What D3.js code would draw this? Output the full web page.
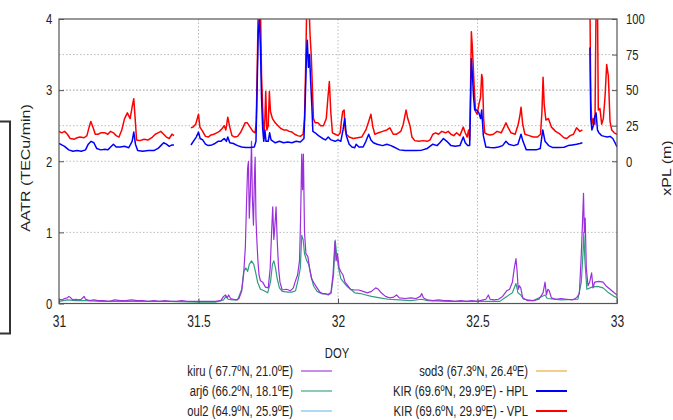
<!DOCTYPE html>
<html>
<head>
<meta charset="utf-8">
<script src="https://cdn.jsdelivr.net/npm/d3@7"></script>
<style>
  body { margin: 0; background: #fff; }
  text { font-family: "Liberation Sans", Arial, sans-serif; fill: #222; }
</style>
</head>
<body>
<svg id="chart" width="673" height="420"></svg>
<script>
// axis ticks
const doyTicks = [31, 31.5, 32, 32.5, 33];
const aatrTicks = [0, 1, 2, 3, 4];
const xplTicks = [0, 25, 50, 75, 100];

// AATR (TECu/min) per station, [DOY, value]
const kiru = [
  [31.000,0.06],[31.010,0.05],[31.020,0.07],[31.030,0.08],[31.035,0.10],[31.042,0.08],[31.050,0.05],[31.060,0.06],
  [31.070,0.05],[31.080,0.06],[31.090,0.10],[31.095,0.06],[31.110,0.04],[31.125,0.05],[31.140,0.04],[31.160,0.04],
  [31.180,0.03],[31.200,0.05],[31.220,0.04],[31.240,0.04],[31.260,0.05],[31.280,0.04],[31.300,0.04],[31.320,0.03],
  [31.340,0.04],[31.360,0.03],[31.380,0.04],[31.400,0.03],[31.420,0.03],[31.440,0.04],[31.460,0.03],[31.480,0.03],
  [31.500,0.03],[31.520,0.03],[31.540,0.03],[31.560,0.03],[31.580,0.04],[31.590,0.10],[31.597,0.12],[31.603,0.08],
  [31.608,0.12],[31.615,0.07],[31.625,0.06],[31.635,0.05],[31.645,0.07],[31.655,0.18],[31.662,0.42],[31.668,0.80],
  [31.672,1.40],[31.676,1.90],[31.679,2.00],[31.682,1.20],[31.686,1.60],[31.690,2.28],[31.693,1.50],[31.697,1.10],
  [31.700,1.70],[31.703,2.06],[31.706,1.20],[31.709,0.90],[31.713,0.60],[31.717,0.40],[31.722,0.32],[31.730,0.30],
  [31.740,0.23],[31.750,0.22],[31.757,0.50],[31.762,1.00],[31.766,1.36],[31.770,0.90],[31.774,1.10],[31.778,1.36],
  [31.782,0.90],[31.787,0.50],[31.792,0.30],[31.800,0.19],[31.815,0.20],[31.830,0.18],[31.840,0.22],[31.846,0.30],
  [31.855,0.40],[31.862,0.60],[31.866,1.20],[31.870,2.10],[31.873,1.60],[31.876,2.10],[31.880,1.00],[31.885,0.70],
  [31.892,0.66],[31.898,0.50],[31.905,0.35],[31.915,0.28],[31.925,0.22],[31.935,0.16],[31.945,0.14],[31.955,0.14],
  [31.965,0.12],[31.975,0.16],[31.982,0.40],[31.989,0.87],[31.993,0.60],[31.998,0.70],[32.004,0.50],[32.010,0.45],
  [32.018,0.40],[32.025,0.30],[32.035,0.25],[32.045,0.20],[32.060,0.19],[32.075,0.19],[32.090,0.17],[32.105,0.15],
  [32.120,0.17],[32.135,0.22],[32.145,0.20],[32.155,0.15],[32.170,0.10],[32.185,0.08],[32.200,0.09],[32.210,0.12],
  [32.220,0.08],[32.240,0.07],[32.260,0.08],[32.280,0.07],[32.295,0.10],[32.300,0.14],[32.306,0.08],[32.320,0.05],
  [32.340,0.04],[32.360,0.05],[32.380,0.04],[32.400,0.04],[32.420,0.03],[32.440,0.04],[32.460,0.03],[32.480,0.04],
  [32.500,0.03],[32.520,0.05],[32.530,0.06],[32.539,0.12],[32.545,0.06],[32.560,0.05],[32.575,0.06],[32.590,0.10],
  [32.605,0.18],[32.615,0.20],[32.625,0.30],[32.632,0.50],[32.638,0.63],[32.642,0.45],[32.646,0.20],[32.650,0.25],
  [32.655,0.22],[32.662,0.08],[32.680,0.04],[32.700,0.04],[32.720,0.06],[32.735,0.15],[32.742,0.30],[32.747,0.12],
  [32.752,0.20],[32.757,0.18],[32.765,0.08],[32.780,0.06],[32.800,0.07],[32.820,0.06],[32.840,0.05],[32.855,0.08],
  [32.865,0.14],[32.871,0.60],[32.876,1.10],[32.880,1.55],[32.883,1.00],[32.886,1.20],[32.890,0.50],[32.896,0.25],
  [32.902,0.30],[32.909,0.43],[32.914,0.22],[32.920,0.30],[32.935,0.31],[32.950,0.30],[32.960,0.25],[32.975,0.20],
  [32.990,0.15],[33.000,0.12]
];
const arj6 = [
  [31.000,0.03],[31.030,0.05],[31.060,0.04],[31.100,0.04],[31.150,0.03],[31.200,0.03],[31.300,0.03],[31.400,0.03],
  [31.500,0.02],[31.560,0.02],[31.590,0.05],[31.598,0.10],[31.606,0.06],[31.620,0.05],[31.640,0.05],[31.655,0.20],
  [31.662,0.45],[31.670,0.50],[31.676,0.45],[31.682,0.55],[31.690,0.60],[31.698,0.55],[31.704,0.45],[31.712,0.30],
  [31.722,0.20],[31.735,0.18],[31.748,0.15],[31.758,0.30],[31.765,0.55],[31.770,0.60],[31.776,0.50],[31.782,0.35],
  [31.790,0.22],[31.800,0.17],[31.820,0.16],[31.835,0.16],[31.848,0.18],[31.858,0.35],[31.865,0.50],[31.870,0.96],
  [31.875,0.90],[31.880,0.70],[31.888,0.60],[31.895,0.55],[31.903,0.40],[31.912,0.25],[31.925,0.17],[31.940,0.14],
  [31.960,0.13],[31.975,0.14],[31.984,0.40],[31.990,0.89],[31.995,0.70],[32.002,0.50],[32.010,0.35],[32.020,0.30],
  [32.030,0.25],[32.045,0.20],[32.060,0.15],[32.080,0.14],[32.100,0.12],[32.120,0.10],[32.150,0.08],[32.180,0.06],
  [32.220,0.05],[32.260,0.04],[32.300,0.06],[32.320,0.04],[32.400,0.03],[32.500,0.03],[32.580,0.03],[32.605,0.10],
  [32.625,0.15],[32.638,0.28],[32.645,0.15],[32.655,0.12],[32.665,0.06],[32.700,0.04],[32.742,0.12],[32.750,0.07],
  [32.800,0.05],[32.860,0.06],[32.872,0.30],[32.878,0.70],[32.881,1.00],[32.885,0.60],[32.892,0.20],[32.910,0.23],
  [32.930,0.24],[32.950,0.22],[32.970,0.15],[32.990,0.10],[33.000,0.08]
];
const oul2 = [];
const sod3 = [];

// protection levels (m) at KIR, [DOY, value]; null = data gap
const hpl = [
  [31.000,12.6],[31.010,11.5],[31.020,10.5],[31.035,8],[31.050,7],[31.065,7.5],[31.080,7],[31.095,8],[31.105,12],
  [31.115,14],[31.125,13],[31.135,9],[31.150,8],[31.165,8.5],[31.175,8],[31.185,10],[31.195,12],[31.205,10],[31.220,10],
  [31.235,10.5],[31.250,9.5],[31.262,14],[31.268,20.5],[31.274,12],[31.282,7.5],[31.300,7],[31.320,7.5],[31.340,7.5],
  [31.355,9],[31.365,11],[31.375,13],[31.385,12],[31.395,10.5],[31.405,11.5],[31.412,11.5],[31.440,null],
  [31.473,11.4],[31.485,15],[31.492,17],[31.500,20.5],[31.506,16],[31.515,15],[31.525,12],[31.535,11],[31.548,11.5],
  [31.559,12.5],[31.570,14],[31.580,14],[31.592,16],[31.600,14],[31.605,17],[31.612,13],[31.625,12.5],[31.640,11],
  [31.655,10],[31.670,9.6],[31.685,9.6],[31.700,10],[31.706,14],[31.710,50],[31.714,90],[31.718,100],[31.722,80],
  [31.726,44],[31.730,23],[31.734,14],[31.738,22],[31.742,14],[31.750,14],[31.755,20],[31.760,15],[31.775,13],
  [31.790,14],[31.805,13],[31.820,13.5],[31.835,13],[31.850,14],[31.865,13.5],[31.878,16],[31.883,45],[31.887,75],
  [31.890,85],[31.894,66],[31.898,75],[31.902,56],[31.906,40],[31.910,21],[31.918,20],[31.930,18],[31.945,16],
  [31.955,15],[31.965,17],[31.975,15],[31.990,14],[32.000,15],[32.010,14],[32.018,22],[32.024,30],[32.030,18],
  [32.040,12],[32.050,10],[32.060,9.5],[32.065,12],[32.075,10],[32.090,10],[32.100,14],[32.110,19],[32.118,15],
  [32.127,13],[32.140,12],[32.160,11],[32.175,12],[32.190,11],[32.200,10],[32.210,9],[32.220,8],[32.240,7.5],
  [32.260,7.6],[32.280,7.5],[32.300,7.8],[32.320,9],[32.340,12],[32.355,11],[32.365,13],[32.378,16],[32.390,14],
  [32.405,11],[32.420,10.5],[32.437,11],[32.449,17],[32.456,13],[32.465,11],[32.472,11],[32.475,40],[32.478,72],
  [32.482,60],[32.486,45],[32.490,36],[32.497,36],[32.505,34],[32.511,30],[32.515,36],[32.521,18],[32.530,10],
  [32.545,9.6],[32.560,9.5],[32.575,10],[32.590,11],[32.602,14],[32.612,12],[32.630,11],[32.645,12],[32.656,19],
  [32.663,14],[32.675,8],[32.690,8],[32.710,8],[32.725,9],[32.734,22],[32.742,14],[32.755,11],[32.770,9.6],
  [32.790,9.6],[32.810,9.8],[32.825,11],[32.840,11.5],[32.855,12],[32.867,12.5],[32.876,13],[32.890,null],
  [32.903,80],[32.906,30],[32.910,22],[32.915,25],[32.920,31],[32.925,34],[32.930,22],[32.935,20],[32.945,18],
  [32.955,17.5],[32.965,17],[32.975,17.5],[32.985,16],[32.993,13],[33.000,10]
];
const vpl = [
  [31.000,21],[31.010,20],[31.020,21],[31.030,19],[31.040,16],[31.055,15.5],[31.065,16.5],[31.075,17],[31.090,16.5],
  [31.100,18],[31.108,24],[31.114,28],[31.120,25],[31.130,19],[31.140,19],[31.150,20],[31.165,20],[31.175,19],
  [31.185,21],[31.195,20],[31.205,18],[31.215,17],[31.225,22],[31.235,30],[31.245,34],[31.255,30],[31.262,38],
  [31.268,44],[31.273,30],[31.278,15],[31.290,14.5],[31.305,15.5],[31.320,15],[31.335,17],[31.345,19],[31.355,20],
  [31.365,21],[31.375,19],[31.385,17],[31.395,16],[31.405,19],[31.412,18],[31.440,null],
  [31.473,23.5],[31.480,24],[31.490,26],[31.500,33],[31.505,24],[31.515,21],[31.525,17.5],[31.535,17],[31.545,18.5],
  [31.555,19],[31.565,20],[31.575,21],[31.585,23],[31.592,25],[31.598,22],[31.605,31],[31.612,24],[31.620,18],
  [31.630,17],[31.640,17.5],[31.650,20],[31.660,24],[31.667,27],[31.675,27],[31.685,24],[31.695,21],[31.703,20],
  [31.707,28],[31.711,70],[31.714,110],[31.718,110],[31.722,110],[31.726,60],[31.730,38],[31.734,16],[31.738,30],
  [31.741,49],[31.745,22],[31.750,25],[31.754,49],[31.758,35],[31.765,30],[31.775,27],[31.785,25],[31.795,23],
  [31.805,22],[31.815,22],[31.825,21],[31.835,20.5],[31.845,19],[31.855,18],[31.865,17.5],[31.875,19],[31.880,30],
  [31.884,65],[31.888,110],[31.892,110],[31.896,110],[31.900,88],[31.904,75],[31.908,53],[31.912,30],[31.918,27],
  [31.928,27],[31.938,25],[31.948,25],[31.958,30],[31.964,45],[31.969,56],[31.974,35],[31.980,20],[31.990,19],
  [32.000,18],[32.008,20],[32.012,28],[32.017,35],[32.022,36],[32.026,22],[32.030,19],[32.040,17],[32.055,16],
  [32.070,16.5],[32.085,17],[32.100,22],[32.110,28],[32.118,33],[32.125,24],[32.132,19],[32.145,20],[32.160,21],
  [32.175,22],[32.186,23.5],[32.198,19],[32.210,19],[32.225,21],[32.234,26],[32.240,32],[32.244,36],[32.250,30],
  [32.258,25],[32.265,17],[32.275,14.5],[32.290,14],[32.305,14.5],[32.320,14],[32.330,15],[32.340,19],[32.350,20],
  [32.360,19],[32.372,21],[32.385,20],[32.395,21],[32.405,19],[32.415,18],[32.425,20],[32.437,18],[32.449,24],
  [32.456,20],[32.463,17],[32.468,22],[32.472,15],[32.475,50],[32.478,91],[32.481,82],[32.484,70],[32.488,53],
  [32.493,35],[32.499,33],[32.505,40],[32.511,45],[32.515,61],[32.518,58],[32.522,30],[32.526,20],[32.535,19],
  [32.545,18.5],[32.557,19],[32.570,21],[32.585,20],[32.595,24],[32.602,27],[32.609,24],[32.620,20],[32.635,19],
  [32.646,26],[32.652,32],[32.656,38],[32.662,26],[32.670,19],[32.685,18],[32.700,17],[32.715,17],[32.726,19],
  [32.731,35],[32.735,59],[32.739,40],[32.745,29],[32.754,30],[32.765,24],[32.780,21],[32.796,19],[32.810,16.5],
  [32.820,16],[32.832,18],[32.844,19],[32.855,23.5],[32.867,21],[32.876,22],[32.890,null],
  [32.903,110],[32.906,43],[32.910,26],[32.915,30],[32.921,26],[32.925,110],[32.930,110],[32.933,36],[32.939,37],
  [32.945,26],[32.951,30],[32.957,45],[32.963,68],[32.969,60],[32.975,28],[32.981,22],[32.990,20],[33.000,19]
];

const legendNames = [
  "kiru ( 67.7ºN, 21.0ºE)", "arj6 (66.2ºN, 18.1ºE)", "oul2 (64.9ºN, 25.9ºE)",
  "sod3 (67.3ºN, 26.4ºE)", "KIR (69.6ºN, 29.9ºE) - HPL", "KIR (69.6ºN, 29.9ºE) - VPL"
];

var colors = {
  kiru: "#9c2fdc", arj6: "#2f9e7c", oul2: "#6cbdea", sod3: "#eda331",
  hpl: "#0000ff", vpl: "#ff0000"
};
var SX = 0.75; // the text in the picture is horizontally squeezed

var svg = d3.select("#chart");
var plotLeft = 59, plotRight = 617, plotTop = 19, plotBottom = 303.5;

var x = d3.scaleLinear().domain([31, 33]).range([plotLeft, plotRight]);
var yL = d3.scaleLinear().domain([0, 4]).range([plotBottom, plotTop]);
var yR = d3.scaleLinear().domain([0, 100]).range([yL(2), yL(4)]);

svg.append("defs").append("clipPath").attr("id", "plotClip")
  .append("rect").attr("x", plotLeft).attr("y", plotTop)
  .attr("width", plotRight - plotLeft).attr("height", plotBottom - plotTop);

// grid
var grid = svg.append("g").attr("stroke", "#bbb").attr("stroke-dasharray", "1.5,2").attr("stroke-width", 1);
grid.selectAll(".gx").data(doyTicks.slice(1, -1)).enter().append("line")
  .attr("x1", d => x(d)).attr("x2", d => x(d)).attr("y1", plotTop).attr("y2", plotBottom);
grid.selectAll(".gyl").data(aatrTicks.slice(1, -1)).enter().append("line")
  .attr("x1", plotLeft).attr("x2", plotRight).attr("y1", d => yL(d)).attr("y2", d => yL(d));
grid.selectAll(".gyr").data(xplTicks.slice(1, -1)).enter().append("line")
  .attr("x1", plotLeft).attr("x2", plotRight).attr("y1", d => yR(d)).attr("y2", d => yR(d));

// lines
var plot = svg.append("g").attr("clip-path", "url(#plotClip)");
function drawLine(data, yScale, color, width) {
  var line = d3.line()
    .defined(d => d[1] != null)
    .x(d => x(d[0]))
    .y(d => yScale(d[1]));
  plot.append("path").datum(data)
    .attr("fill", "none")
    .attr("stroke", color)
    .attr("stroke-width", width)
    .attr("stroke-linejoin", "round")
    .attr("d", line);
}
drawLine(sod3, yL, colors.sod3, 1);
drawLine(oul2, yL, colors.oul2, 1);
drawLine(arj6, yL, colors.arj6, 1.2);
drawLine(kiru, yL, colors.kiru, 1.2);
drawLine(vpl, yR, colors.vpl, 1.5);
drawLine(hpl, yR, colors.hpl, 1.5);

// axes
function squeezeText(g) {
  g.selectAll("text").attr("transform", `scale(${SX},1)`)
    .style("font-size", "15px").style("fill", "#222");
  g.select(".domain").remove();
  g.selectAll("line").attr("stroke", "#555");
}
svg.append("g").attr("transform", `translate(${plotLeft},0)`)
  .call(d3.axisLeft(yL).tickValues(aatrTicks).tickFormat(d3.format("d"))
    .tickSizeInner(-5).tickSizeOuter(0).tickPadding(9))
  .call(squeezeText);
svg.append("g").attr("transform", `translate(${plotRight},0)`)
  .call(d3.axisRight(yR).tickValues(xplTicks).tickFormat(d3.format("d"))
    .tickSizeInner(-5).tickSizeOuter(0).tickPadding(12))
  .call(squeezeText);
svg.append("g").attr("transform", `translate(0,${plotBottom})`)
  .call(d3.axisBottom(x).tickValues(doyTicks).tickFormat(d => d)
    .tickSizeInner(-5).tickSizeOuter(0).tickPadding(12))
  .call(squeezeText)
  .selectAll("text").style("font-size", "16px");

// frame
svg.append("rect").attr("x", plotLeft).attr("y", plotTop)
  .attr("width", plotRight - plotLeft).attr("height", plotBottom - plotTop)
  .attr("fill", "none").attr("stroke", "#555").attr("stroke-width", 1.2);

// titles
svg.append("text").attr("transform", `translate(337,358) scale(${SX},1)`)
  .attr("text-anchor", "middle").style("font-size", "15px").text("DOY");
svg.append("text").attr("transform", `translate(30,168) scale(${SX},1) rotate(-90)`)
  .attr("text-anchor", "middle").style("font-size", "16px").text("AATR (TECu/min)");
svg.append("text").attr("transform", `translate(671,168) scale(${SX},1) rotate(-90)`)
  .attr("text-anchor", "middle").style("font-size", "16px").text("xPL (m)");

// legend
var legendKeys = ["kiru", "arj6", "oul2", "sod3", "hpl", "vpl"];
var legend = svg.append("g");
var items = legend.selectAll("g").data(legendKeys).enter().append("g")
  .attr("transform", (d, i) => `translate(${i < 3 ? 293 : 528},${371 + (i % 3) * 20})`);
items.append("text")
  .attr("transform", `scale(${SX},1)`)
  .attr("text-anchor", "end").attr("dy", "0.35em")
  .style("font-size", "15px")
  .text((d, i) => legendNames[i]);
items.append("line")
  .attr("x1", 8).attr("x2", 39).attr("y1", 0).attr("y2", 0)
  .attr("stroke", d => colors[d])
  .attr("stroke-width", d => (d === "hpl" || d === "vpl") ? 2 : 1.1);

// stray box edge at the left of the picture
svg.append("path").attr("d", "M0,121.5 H10 V333.5 H0")
  .attr("fill", "none").attr("stroke", "#333").attr("stroke-width", 2);
</script>
</body>
</html>
